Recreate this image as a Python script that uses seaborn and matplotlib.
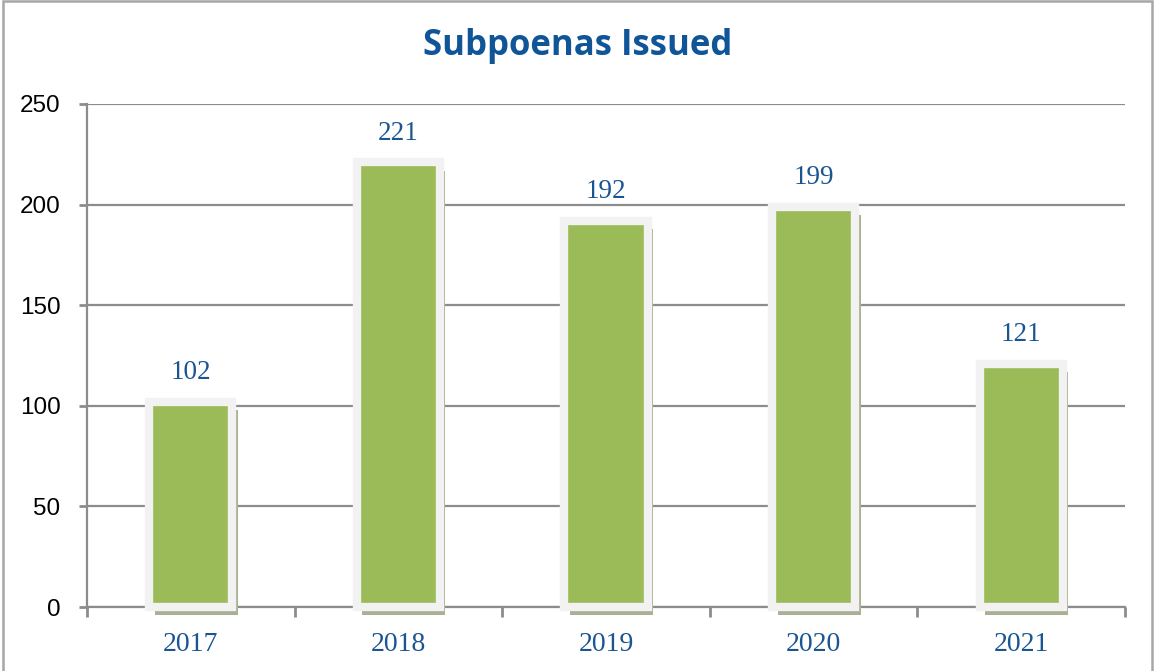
import matplotlib
matplotlib.use("Agg")
import matplotlib.pyplot as plt
import matplotlib.patheffects as pe
from matplotlib.patches import Rectangle
import seaborn as sns
import pandas as pd

years = ["2017", "2018", "2019", "2020", "2021"]
subpoenas = [102, 221, 192, 199, 121]
y_ticks = [0, 50, 100, 150, 200, 250]

sns.set_style("white")

df = pd.DataFrame({"year": years, "count": subpoenas})

fig = plt.figure(figsize=(11.54, 6.71), dpi=100)
ax = fig.add_axes([87 / 1154, 64 / 671, 1038 / 1154, 503 / 671])

sns.barplot(data=df, x="year", y="count", color="#9bbb59", saturation=1,
            width=0.40, edgecolor="#f2f2f2", linewidth=6, ax=ax, zorder=3)

for p in ax.patches:
    p.set_clip_on(False)
    p.set_zorder(3)
    p.set_path_effects([
        pe.SimplePatchShadow(offset=(4, -6), shadow_rgbFace="#a9b194", alpha=1.0),
        pe.Normal(),
    ])

blue = "#1a5592"
for i, v in enumerate(subpoenas):
    ax.annotate(str(v), (i, v), xytext=(0, 12), textcoords="offset points",
                ha="center", va="bottom", fontsize=19.5,
                family="Liberation Serif", color=blue)

ax.set_xlim(-0.5, 4.5)
ax.set_ylim(0, 250)
ax.set_yticks(y_ticks)
ax.set_yticklabels([str(t) for t in y_ticks], fontsize=17.5,
                   family="Liberation Sans", color="black")
ax.set_xticks(range(len(years)))
ax.set_xticklabels(years, fontsize=20, family="Liberation Serif", color=blue)
ax.set_xticks([i - 0.5 for i in range(len(years) + 1)], minor=True)
ax.tick_params(axis="x", which="major", length=0, pad=18)
ax.tick_params(axis="x", which="minor", length=7, width=2, color="#8c8c8c",
               direction="out", bottom=True)
ax.tick_params(axis="y", which="major", length=6, width=2, color="#8c8c8c",
               direction="out", left=True, pad=13)
ax.set_xlabel("")
ax.set_ylabel("")

ax.grid(axis="y", color="#8c8c8c", linewidth=1.6, zorder=0)
ax.set_axisbelow(True)
for side in ["top", "right"]:
    ax.spines[side].set_visible(False)
for side in ["left", "bottom"]:
    ax.spines[side].set_color("#8c8c8c")
    ax.spines[side].set_linewidth(1.6)
    ax.spines[side].set_zorder(1)

fig.text(578 / 1154, 1 - 46 / 671, "Subpoenas Issued", ha="center", va="center",
         fontsize=25, fontweight="bold", family="Open Sans", color="#0f5597")

fig.patches.append(Rectangle((3 / 1154, -0.05), 1149 / 1154, 1.05 - 1.5 / 671,
                             transform=fig.transFigure, fill=False,
                             edgecolor="#a6a6a6", linewidth=1.8))

fig.savefig("out.png", dpi=100)
